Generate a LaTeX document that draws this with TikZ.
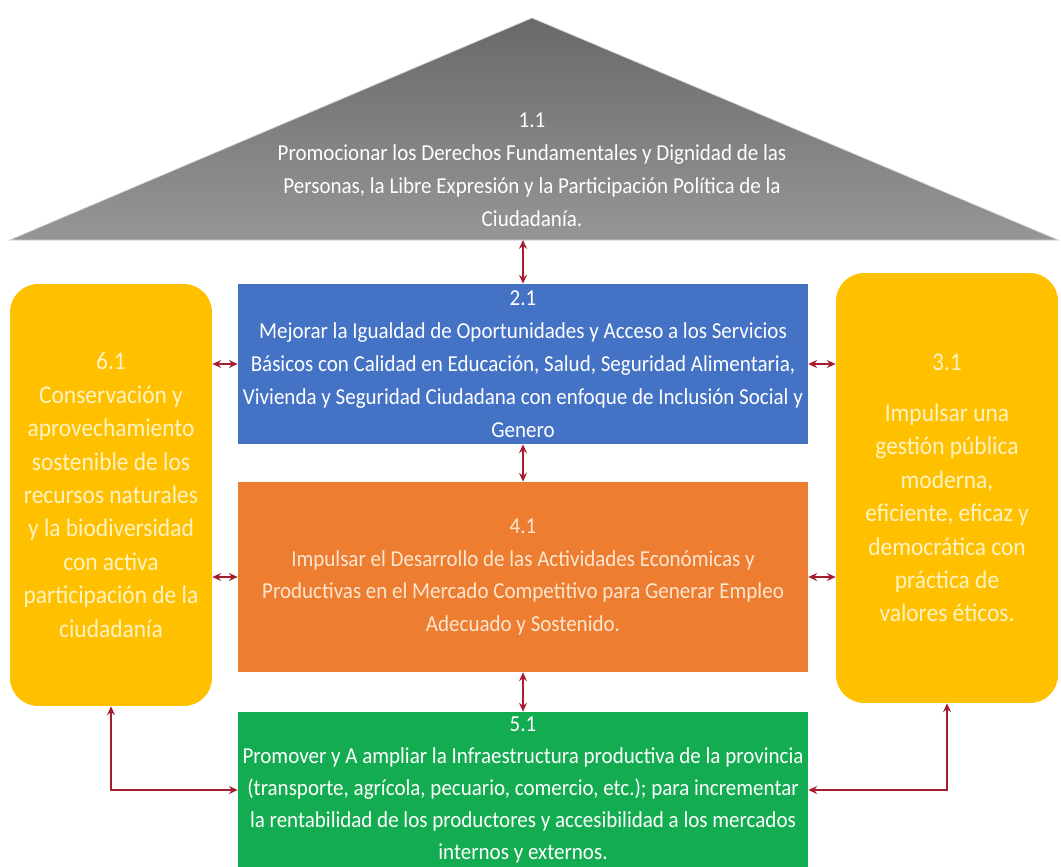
\documentclass[tikz,border=0pt]{standalone}
\usepackage{fontspec}
\setmainfont{Carlito}[FakeStretch=0.92]
\usetikzlibrary{arrows.meta}
\definecolor{azul}{RGB}{68,114,196}
\definecolor{naranja}{RGB}{237,125,49}
\definecolor{verde}{RGB}{20,172,80}
\definecolor{amarillo}{RGB}{255,192,0}
\definecolor{guinda}{RGB}{165,30,45}
\definecolor{crema}{RGB}{255,243,195}
\definecolor{durazno}{RGB}{253,230,208}
\definecolor{grisosc}{RGB}{105,105,105}
\definecolor{grisclr}{RGB}{150,150,150}

\begin{document}
\begin{tikzpicture}[x=0.02cm, y=-0.02cm,
	obj/.style={rectangle, align=center, text=white, inner sep=0pt, minimum width=11.4cm,
		font=\fontsize{13}{18.7}\selectfont},
	lado/.style={obj, rounded corners=16pt, fill=amarillo, text=crema,
		font=\fontsize{14.5}{19}\selectfont},
	flecha/.style={draw=guinda, line width=1.1pt, {Stealth[length=5pt,width=4.5pt]}-{Stealth[length=5pt,width=4.5pt]}}]
	\useasboundingbox (0,0) rectangle (1061,866);
	\shade[top color=grisosc, bottom color=grisclr, draw=gray!40] (10,240) -- (532,18) -- (1058,240) -- cycle;
	\coordinate (base) at (523,240);
	\node[obj] (t11) at (532,170) {1.1\\Promocionar los Derechos Fundamentales y Dignidad de las\\Personas, la Libre Expresión y la Participación Política de la\\Ciudadanía.};
	\node[obj, fill=azul, minimum height=3.2cm] (b21) at (523,364) {2.1\\Mejorar la Igualdad de Oportunidades y Acceso a los Servicios\\Básicos con Calidad en Educación, Salud, Seguridad Alimentaria,\\Vivienda y Seguridad Ciudadana con enfoque de Inclusión Social y\\Genero};
	\node[obj, fill=naranja, text=durazno, minimum height=3.8cm] (o41) at (523,577) {4.1\\Impulsar el Desarrollo de las Actividades Económicas y\\Productivas en el Mercado Competitivo para Generar Empleo\\Adecuado y Sostenido.};
	\node[obj, fill=verde, minimum height=3.12cm, font=\fontsize{13}{18.2}\selectfont] (v51) at (523,790) {5.1\\Promover y A ampliar la Infraestructura productiva de la provincia\\(transporte, agrícola, pecuario, comercio, etc.); para incrementar\\la rentabilidad de los productores y accesibilidad a los mercados\\internos y externos.};
	\node[lado, minimum width=4.04cm, minimum height=8.44cm] (a61) at (111,495) {6.1\\Conservación y\\aprovechamiento\\sostenible de los\\recursos naturales\\y la biodiversidad\\con activa\\participación de la\\ciudadanía};
	\node[lado, minimum width=4.44cm, minimum height=8.6cm] (a31) at (947,488) {3.1\\[10pt]Impulsar una\\gestión pública\\moderna,\\eficiente, eficaz y\\democrática con\\práctica de\\valores éticos.};
	\draw[flecha] (base) -- (b21);
	\draw[flecha] (b21) -- (o41);
	\draw[flecha] (o41) -- (v51);
	\foreach \n in {b21,o41} {
		\draw[flecha] (a61.east |- \n.west) -- (\n.west);
		\draw[flecha] (\n.east) -- (a31.west |- \n.east);
	}
	\draw[flecha] (a61.south) |- (v51.west);
	\draw[flecha] (a31.south) |- (v51.east);
\end{tikzpicture}
\end{document}
